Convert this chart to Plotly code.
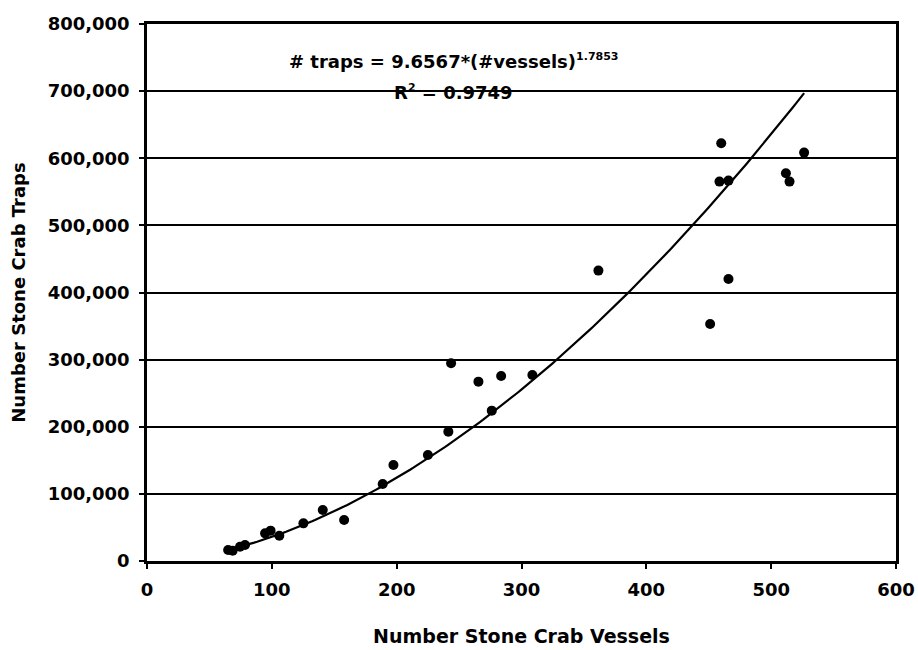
import numpy as np
import plotly.graph_objects as go

vessels = [65, 68.6, 74.5, 78.5, 94.6, 99, 106, 125.3, 140.8, 157.9, 188.8, 197.4,
           225, 241.4, 243.6, 265.5, 276.2, 283.7, 308.7, 361.6, 451.1, 458.6,
           460, 465.8, 465.8, 511.8, 514.7, 526.4]
traps = [16400, 15300, 21300, 23800, 41200, 45200, 37700, 56100, 76000, 61100,
         114700, 143000, 158000, 192700, 294500, 267200, 224000, 275600, 277100,
         432600, 353100, 565200, 622400, 566700, 420200, 577700, 565200, 608400]

coef_a = 9.6567
coef_b = 1.7853
r_squared = 0.9749

x_ticks = [0, 100, 200, 300, 400, 500, 600]
y_ticks = [0, 100000, 200000, 300000, 400000, 500000, 600000, 700000, 800000]

fit_x = np.linspace(min(vessels), max(vessels), 200)
fit_y = coef_a * fit_x ** coef_b

FONT = "DejaVu Sans"
W, H = 918, 650
L, R, T, B = 147, 22, 24, 89


def px_to_paper(px, py):
    return (px - L) / (W - L - R), 1 - (py - T) / (H - T - B)


fig = go.Figure()
fig.add_trace(go.Scatter(x=fit_x, y=fit_y, mode="lines",
                         line=dict(color="black", width=2.2), hoverinfo="skip"))
fig.add_trace(go.Scatter(x=vessels, y=traps, mode="markers",
                         marker=dict(color="black", size=10)))

fig.update_layout(
    width=W, height=H,
    margin=dict(l=L, r=R, t=T, b=B, autoexpand=False),
    paper_bgcolor="white", plot_bgcolor="white",
    showlegend=False,
    font=dict(family=FONT, size=18, color="black"),
    xaxis=dict(range=[0, 600], tickvals=x_ticks, showgrid=False, zeroline=False,
               automargin=False,
               showline=True, linecolor="black", linewidth=2.5, mirror=True,
               ticks="outside", ticklen=5, tickcolor="black", tickwidth=1.5,
               ticklabelstandoff=6,
               tickfont=dict(family=FONT, size=18, color="black", weight="bold"),
               title=dict(text="<b>Number Stone Crab Vessels</b>", standoff=31,
                          font=dict(family=FONT, size=19, color="black"))),
    yaxis=dict(range=[0, 800000], tickvals=y_ticks, tickformat=",d",
               showgrid=True, gridcolor="black", gridwidth=1.8, zeroline=False,
               automargin=False,
               showline=True, linecolor="black", linewidth=2.5, mirror=True,
               ticks="outside", ticklen=5, tickcolor="black", tickwidth=1.5,
               ticklabelstandoff=6,
               tickfont=dict(family=FONT, size=18, color="black", weight="bold"),
               title=dict(text="<b>Number Stone Crab Traps</b>", standoff=18,
                          font=dict(family=FONT, size=18, color="black"))),
)

ax1, ay1 = px_to_paper(454, 61)
fig.add_annotation(xref="paper", yref="paper", x=ax1, y=ay1, showarrow=False,
                   xanchor="center", yanchor="middle",
                   text=(f"<b># traps = {coef_a}*(#vessels)"
                         f"<sup><span style='font-size:11px'>{coef_b}</span></sup></b>"),
                   font=dict(family=FONT, size=18, color="black"))
ax2, ay2 = px_to_paper(453, 92)
fig.add_annotation(xref="paper", yref="paper", x=ax2, y=ay2, showarrow=False,
                   xanchor="center", yanchor="middle",
                   text=(f"<b>R<sup><span style='font-size:11px'>2</span></sup>"
                         f" = {r_squared}</b>"),
                   font=dict(family=FONT, size=18, color="black"))

fig.write_html("out.html")
